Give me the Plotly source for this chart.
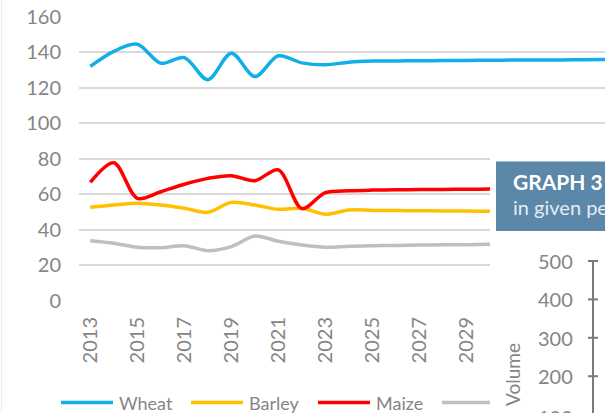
import plotly.graph_objects as go

# chart data
years = list(range(2013, 2036))
wheat = [132.0, 140.5, 144.5, 133.8, 137.0, 124.5, 139.5, 126.3, 138.0, 134.0, 132.9, 134.4,
         135.0, 135.1, 135.2, 135.3, 135.4, 135.5, 135.6, 135.6, 135.7, 135.8, 135.9]
barley = [52.7, 54.0, 55.0, 54.0, 52.2, 49.9, 55.5, 54.0, 51.6, 52.2, 48.8, 51.2,
          51.0, 50.9, 50.8, 50.7, 50.6, 50.5, 50.5, 50.4, 50.4, 50.3, 50.3]
maize = [66.8, 77.8, 57.8, 61.5, 65.7, 69.0, 70.5, 67.7, 73.8, 52.0, 61.0, 62.0,
         62.4, 62.6, 62.7, 62.8, 62.9, 63.0, 63.1, 63.2, 63.3, 63.4, 63.5]
other = [33.9, 32.5, 30.2, 30.0, 31.1, 28.3, 30.6, 36.6, 33.6, 31.5, 30.2, 30.8,
         31.1, 31.3, 31.5, 31.6, 31.7, 31.9, 32.0, 32.0, 32.1, 32.1, 32.2]

series_names = ["Wheat", "Barley", "Maize", "Other cereals"]
series_values = [wheat, barley, maize, other]
series_colors = ["#12aee8", "#ffc000", "#ff0000", "#bfbfbf"]

y_ticks_low = [0, 20, 40, 60, 80]
y_ticks_high = [100, 120, 140, 160]
x_ticks = list(range(2013, 2036, 2))
vol_ticks = [100, 200, 300, 400, 500]

W, H = 605, 413
GREY = "#858585"
AXIS2 = "#7a7a7a"
FONT = "Lato"

# pixel geometry of the (partly covered) chart
X0, X_2013, PX_YEAR = 79, 90.3, 23.51
Y_ZERO, Y_TOP, PX_UNIT = 301, 16.7, (301 - 16.7) / 160
CUT_X, CUT_Y = 490, 152  # the next chart on the page hides everything right/below this
VOL_TOP, VOL_PX = 261, 0.384  # next chart: pixel of 500, pixels per unit
VOL_AXIS_X = 593


def px(x):
    return x / W


def py(y):
    return 1 - y / H


def year_at(x):
    return 2013 + (x - X_2013) / PX_YEAR


def vol_y(v):
    return VOL_TOP + (500 - v) * VOL_PX


split_val = (Y_ZERO - CUT_Y) / PX_UNIT

fig = go.Figure()
for name, vals, col in zip(series_names, series_values, series_colors):
    # wheat lives in the upper band, which is not covered by the next chart
    upper = min(vals) > split_val
    fig.add_trace(go.Scatter(
        x=years, y=vals, name=name, mode="lines",
        xaxis="x3" if upper else "x", yaxis="y3" if upper else "y",
        line=dict(color=col, width=3.5, shape="spline", smoothing=0.9),
        showlegend=False, hoverinfo="skip",
    ))

shapes = [
    # faint page border on the left
    dict(type="line", xref="paper", yref="paper", x0=px(1.5), x1=px(1.5), y0=0, y1=1,
         line=dict(color="#ececec", width=1)),
    # title box of the next chart
    dict(type="rect", xref="paper", yref="paper", x0=px(496), x1=1.01,
         y0=py(231), y1=py(161.5), fillcolor="#5b87a8", line=dict(width=0), layer="above"),
    # axis line of the next chart
    dict(type="line", xref="paper", yref="paper", x0=px(VOL_AXIS_X), x1=px(VOL_AXIS_X),
         y0=0, y1=py(vol_y(500)), line=dict(color=AXIS2, width=2)),
]
annotations = []

# its tick marks cross the axis line, labels on the left
for v in vol_ticks:
    shapes.append(dict(type="line", xref="paper", yref="paper", x0=px(VOL_AXIS_X - 5),
                       x1=px(VOL_AXIS_X + 5), y0=py(vol_y(v)), y1=py(vol_y(v)),
                       line=dict(color=AXIS2, width=2)))
    annotations.append(dict(xref="paper", yref="paper", x=px(575),
                            y=py(vol_y(v) + (2 if v == 100 else 0)),
                            text=str(v), showarrow=False, xanchor="right", yanchor="middle",
                            font=dict(family=FONT, size=20, color=GREY)))

# hand drawn legend (Excel style long keys)
leg_y = py(402.5)
key_x = [(61, 113), (191, 243), (318, 370), (442, CUT_X)]
for (x0, x1), name, col in zip(key_x, series_names, series_colors):
    shapes.append(dict(type="line", xref="paper", yref="paper", x0=px(x0), x1=px(x1),
                       y0=leg_y, y1=leg_y, line=dict(color=col, width=3.5)))
    if x1 < CUT_X:
        annotations.append(dict(xref="paper", yref="paper", x=px(x1 + 4), y=leg_y,
                                text=name, showarrow=False, xanchor="left", yanchor="middle",
                                font=dict(family=FONT, size=18, color=GREY)))

annotations += [
    dict(xref="paper", yref="paper", x=px(511), y=py(182), text="<b>GRAPH 3</b>",
         showarrow=False, xanchor="left", yanchor="middle",
         font=dict(family=FONT, size=21, color="white")),
    dict(xref="paper", yref="paper", x=px(511), y=py(207), text="in given periods",
         showarrow=False, xanchor="left", yanchor="middle",
         font=dict(family=FONT, size=20, color="#e3ebf2")),
    dict(xref="paper", yref="paper", x=px(512), y=py(375), text="Volume", textangle=-90,
         showarrow=False, xanchor="center", yanchor="middle",
         font=dict(family=FONT, size=19, color=GREY)),
]

grid = dict(showgrid=True, gridcolor="#d9d9d9", gridwidth=2, zeroline=False, showline=False,
            ticks="outside", ticklen=13, tickcolor="rgba(0,0,0,0)",
            automargin=False, fixedrange=True)

fig.update_layout(
    width=W, height=H,
    margin=dict(l=0, r=0, t=0, b=0),
    paper_bgcolor="white", plot_bgcolor="white",
    font=dict(family=FONT, size=20, color=GREY),
    showlegend=False,
    shapes=shapes,
    annotations=annotations,
    # lower band 0-80, cut off on the right by the next chart
    xaxis=dict(
        domain=[px(X0), px(CUT_X)], range=[year_at(X0), year_at(CUT_X)],
        tickvals=x_ticks, tickangle=-90, showgrid=False, zeroline=False,
        showline=False, ticks="outside", ticklen=7, tickcolor="rgba(0,0,0,0)",
        automargin=False, fixedrange=True,
    ),
    yaxis=dict(domain=[py(Y_ZERO), py(CUT_Y)], range=[0, split_val],
               tickvals=y_ticks_low, **grid),
    # upper band 100-160, runs to the page edge
    xaxis3=dict(
        domain=[px(X0), 1], range=[year_at(X0), year_at(W)], anchor="y3",
        visible=False, fixedrange=True,
    ),
    yaxis3=dict(domain=[py(CUT_Y), py(Y_TOP)], range=[split_val, 160], anchor="x3",
                tickvals=y_ticks_high, **grid),
)

fig.write_html("out.html", config={"displayModeBar": False},
               post_script="document.body.style.margin='0';")
